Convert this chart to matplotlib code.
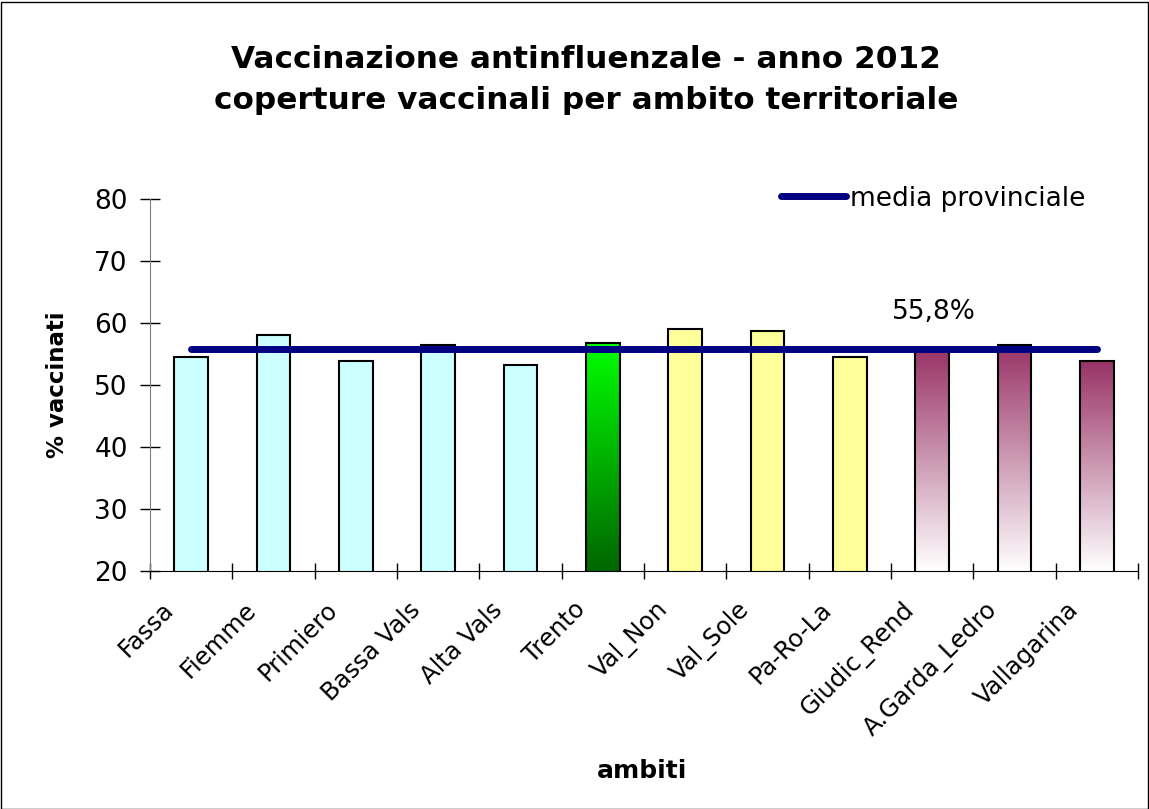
import numpy as np
import matplotlib.pyplot as plt
from matplotlib.colors import LinearSegmentedColormap
from matplotlib.transforms import ScaledTranslation

plt.rcParams['font.family'] = ['DejaVu Sans']

# data
ambiti = ['Fassa', 'Fiemme', 'Primiero', 'Bassa Vals', 'Alta Vals', 'Trento',
          'Val_Non', 'Val_Sole', 'Pa-Ro-La', 'Giudic_Rend', 'A.Garda_Ledro', 'Vallagarina']
copertura = [54.5, 58.1, 53.8, 56.5, 53.2, 56.8, 59.0, 58.7, 54.5, 55.7, 56.5, 53.8]
gruppo = ['c', 'c', 'c', 'c', 'c', 'g', 'y', 'y', 'y', 'p', 'p', 'p']
media = 55.8

colori = {'c': '#CCFFFF', 'y': '#FFFF99'}
gradienti = {'g': ('#006600', '#00FF00'), 'p': ('#FFFFFF', '#993366')}

fig = plt.figure(figsize=(11.49, 8.09), dpi=100)
ax = fig.add_axes([150 / 1149, 1 - 571 / 809, 988 / 1149, 372 / 809])

x = np.arange(len(ambiti))
bars = ax.bar(x, copertura, width=0.41, bottom=0, edgecolor='black', linewidth=1.5, zorder=2)
for b, g in zip(bars, gruppo):
    if g in colori:
        b.set_facecolor(colori[g])
    else:
        # gradient fill clipped to the bar
        b.set_facecolor('none')
        cmap = LinearSegmentedColormap.from_list('grad', gradienti[g])
        grad = np.linspace(0, 1, 256).reshape(-1, 1)
        x0, w, h = b.get_x(), b.get_width(), b.get_height()
        im = ax.imshow(grad, cmap=cmap, origin='lower', aspect='auto',
                       extent=[x0, x0 + w, 20, h], zorder=1.5)
        im.set_clip_path(b)

ax.plot([x[0], x[-1]], [media, media], color='#000080', linewidth=5,
        solid_capstyle='round', zorder=3, label='media provinciale')
ax.text(9.02, 59.6, '55,8%', fontsize=19, ha='center', va='bottom')

ax.set_xlim(-0.5, len(ambiti) - 0.5)
ax.set_ylim(20, 80)
ax.set_yticks(range(20, 81, 10))
ax.tick_params(axis='y', labelsize=19, direction='inout', length=14, width=1, pad=9)
ax.set_xticks(np.arange(-0.5, len(ambiti), 1))
ax.set_xticklabels([])
ax.set_xticks(x, minor=True)
ax.set_xticklabels(ambiti, minor=True, rotation=45, ha='right', rotation_mode='anchor', fontsize=17.5)
ax.tick_params(axis='x', which='major', direction='inout', length=11.5, width=1)
ax.tick_params(axis='x', which='minor', length=0, pad=19)
for t in ax.get_xticklabels(minor=True):
    t.set_transform(t.get_transform() + ScaledTranslation(-0.30, 0, fig.dpi_scale_trans))

ax.spines['top'].set_visible(False)
ax.spines['right'].set_visible(False)
ax.spines['left'].set_color('#808080')
ax.spines['bottom'].set_color('black')

ax.set_ylabel('% vaccinati', fontsize=16.5, fontweight='bold', labelpad=18)
fig.text(642 / 1149, 1 - 771 / 809, 'ambiti', fontsize=18, fontweight='bold', ha='center', va='center')
fig.text(586 / 1149, 1 - 80 / 809, 'Vaccinazione antinfluenzale - anno 2012\ncoperture vaccinali per ambito territoriale',
         fontsize=22.4, fontweight='bold', ha='center', va='center', linespacing=1.55)

ax.legend(loc='upper left', bbox_to_anchor=(0.615, 1.10), frameon=False, fontsize=19,
          handlelength=2.45, handletextpad=0.15)

fig.patches.append(plt.Rectangle((0.5 / 1149, 0.5 / 809), 1147 / 1149, 807 / 809, transform=fig.transFigure,
                                 fill=False, edgecolor='black', linewidth=1))
fig.savefig('out.png', dpi=100)
